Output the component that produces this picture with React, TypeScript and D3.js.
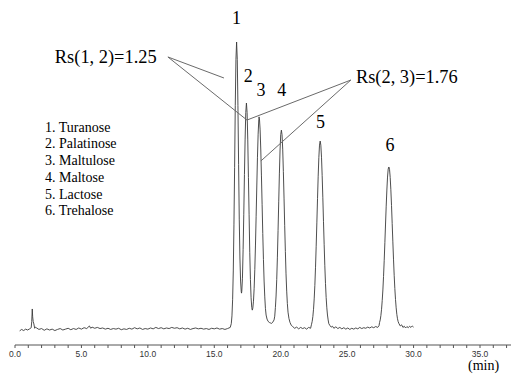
import React from 'react';
import * as d3 from 'd3';

// retention time (min), detector signal (% of peak 1)
const trace: [number, number][] = [
  [0.35, -0.3], [0.5, 0.2], [0.65, -0.2], [0.8, 0.3], [0.95, 0.0], [1.1, 0.4], [1.22, 0.8],
  [1.26, 3.0], [1.3, 7.3], [1.33, 4.6], [1.37, 2.9], [1.42, 2.1], [1.48, 0.6], [1.55, 1.0],
  [1.6, 0.8], [1.8, 0.2], [2.0, 0.5], [2.2, -0.1], [2.4, 0.4], [2.6, 0.0], [2.8, 0.3], [3.0, -0.2],
  [3.2, 0.2], [3.4, 0.5], [3.6, 0.0], [3.8, 0.3], [4.0, 0.6], [4.2, 0.1], [4.4, 0.5], [4.6, 0.2],
  [4.8, 0.7], [5.0, 0.3], [5.2, 0.8], [5.4, 0.5], [5.6, 1.4], [5.7, 0.6], [5.8, 1.0], [6.0, 0.6],
  [6.2, 0.9], [6.4, 0.5], [6.6, 0.7], [6.8, 0.3], [7.0, 0.6], [7.2, 0.2], [7.4, 0.5], [7.6, 0.3],
  [7.8, 0.6], [8.0, 0.1], [8.2, 0.4], [8.4, 0.2], [8.6, 0.6], [8.8, 0.3], [9.0, 0.8], [9.2, 0.4],
  [9.4, 0.7], [9.6, 0.2], [9.8, 0.5], [10.0, 0.3], [10.2, 0.7], [10.4, 0.4], [10.6, 0.9], [10.8, 0.5],
  [11.0, 0.8], [11.2, 0.4], [11.4, 0.7], [11.6, 0.5], [11.8, 0.9], [12.0, 0.6], [12.2, 0.8], [12.4, 0.4],
  [12.6, 0.7], [12.8, 0.3], [13.0, 0.6], [13.2, 0.2], [13.4, 0.5], [13.6, 0.7], [13.8, 0.4], [14.0, 0.6],
  [14.2, 0.3], [14.4, 0.5], [14.6, 0.2], [14.8, 0.6], [15.0, 0.4], [15.2, 0.7], [15.4, 0.3], [15.6, 0.5],
  [15.8, 0.2], [16.0, 0.5], [16.2, 0.9],
  // peak 1
  [16.28, 2.2], [16.33, 4.9], [16.38, 10.5], [16.43, 20.5], [16.48, 36.5], [16.53, 56.5], [16.58, 78],
  [16.63, 94], [16.68, 100], [16.73, 94], [16.78, 78], [16.83, 57.5], [16.88, 38.5], [16.93, 25],
  [16.98, 17], [17.03, 13.3], [17.05, 12.8],
  // peak 2
  [17.07, 13.5], [17.12, 18], [17.17, 28], [17.22, 40], [17.27, 54], [17.32, 66], [17.37, 75.5],
  [17.42, 78.8], [17.47, 75.5], [17.52, 66], [17.57, 53], [17.62, 40], [17.67, 27], [17.72, 17.5],
  [17.77, 11.2], [17.82, 7.8], [17.86, 6.9],
  // peak 3
  [17.9, 7.6], [17.95, 10], [18.0, 14.5], [18.05, 21], [18.1, 29.5], [18.15, 39.5], [18.2, 50],
  [18.25, 60], [18.3, 68], [18.35, 73], [18.37, 74], [18.4, 73.3], [18.45, 69.5], [18.5, 62.5],
  [18.55, 53.5], [18.6, 43.5], [18.65, 33.5], [18.7, 24.5], [18.75, 17], [18.8, 11.5], [18.85, 7.5],
  [18.9, 5.2], [18.97, 3.8], [19.05, 3.0], [19.15, 2.6], [19.25, 2.4], [19.32, 2.3], [19.4, 2.7],
  [19.5, 3.5], [19.55, 4.8],
  // peak 4
  [19.6, 7.8], [19.65, 11.8], [19.7, 17.5], [19.75, 25.3], [19.8, 34.5], [19.85, 44.5], [19.9, 54.2],
  [19.95, 62.5], [20.0, 67.8], [20.05, 69.4], [20.1, 67.8], [20.15, 62.8], [20.2, 55], [20.25, 45.8],
  [20.3, 36.2], [20.35, 27.3], [20.4, 19.5], [20.45, 13.5], [20.5, 9.2], [20.55, 6.2], [20.62, 4.0],
  [20.7, 2.6], [20.8, 1.6], [20.9, 1.2], [21.05, 0.6], [21.2, 1.0], [21.35, 0.4], [21.5, 0.9],
  [21.65, 0.5], [21.8, 0.8], [21.95, 0.3], [22.1, 0.9], [22.25, 0.6],
  // peak 5
  [22.32, 2.0], [22.37, 3.0], [22.42, 4.7], [22.47, 7.2], [22.52, 10.8], [22.57, 15.5], [22.62, 21.8],
  [22.67, 29.1], [22.72, 37.2], [22.77, 45.6], [22.82, 53.4], [22.87, 59.9], [22.92, 64.2], [22.97, 65.6],
  [23.02, 64.2], [23.07, 60.0], [23.12, 53.6], [23.17, 45.9], [23.22, 37.6], [23.27, 29.6], [23.32, 22.3],
  [23.37, 16.1], [23.42, 11.3], [23.47, 7.7], [23.52, 5.2], [23.57, 3.5], [23.62, 2.2], [23.7, 1.6],
  [23.8, 1.0], [23.9, 1.3], [24.0, 0.6], [24.15, 1.1], [24.3, 0.5], [24.45, 0.9], [24.6, 0.4],
  [24.75, 0.8], [24.9, 0.3], [25.05, 0.7], [25.2, 0.2], [25.35, 0.6], [25.5, 0.3], [25.65, 0.7],
  [25.8, 0.4], [25.95, 0.9], [26.1, 0.5], [26.25, 0.8], [26.4, 0.6], [26.55, 1.0], [26.7, 0.7],
  [26.85, 1.1], [27.0, 0.8], [27.15, 1.2], [27.3, 0.9], [27.4, 1.5],
  // peak 6
  [27.44, 2.6], [27.49, 3.5], [27.54, 5.0], [27.59, 7.2], [27.64, 10.2], [27.69, 13.9], [27.74, 18.6],
  [27.79, 24.2], [27.84, 30.3], [27.89, 36.8], [27.94, 43.0], [27.99, 48.6], [28.04, 53.1], [28.09, 55.9],
  [28.14, 56.6], [28.19, 55.8], [28.24, 53.0], [28.29, 48.7], [28.34, 43.2], [28.39, 37.0], [28.44, 30.6],
  [28.49, 24.6], [28.54, 19.0], [28.59, 14.4], [28.64, 10.6], [28.69, 7.7], [28.74, 5.4], [28.79, 3.9],
  [28.84, 2.9], [28.9, 2.2], [29.0, 1.4], [29.1, 1.8], [29.2, 0.9], [29.3, 1.3], [29.4, 0.7],
  [29.5, 1.2], [29.6, 0.8], [29.7, 1.3], [29.8, 0.9], [29.9, 1.4], [30.0, 1.0],
];

// peak number, retention time, height of its label (signal units)
const peakIds = ['1', '2', '3', '4', '5', '6'];
const peakTimes = [16.68, 17.55, 18.51, 20.07, 23.0, 28.22];
const peakLabelLevels = [106.3, 86.0, 81.2, 81.4, 70.1, 62.3];

const compounds = ['Turanose', 'Palatinose', 'Maltulose', 'Maltose', 'Lactose', 'Trehalose'];

const majorTicks = [0, 5, 10, 15, 20, 25, 30, 35];
const minorTicks = d3.range(0, 38, 1);

// resolution callouts: label anchor and leader line ends, in (min, signal)
const rs12 = { text: 'Rs(1, 2)=1.25', at: [3.0, 92.7], from: [11.51, 94.8], to: [[15.73, 87.5], [17.46, 72.9]] };
const rs23 = { text: 'Rs(2, 3)=1.76', at: [25.66, 85.9], from: [25.28, 86.8], to: [[17.46, 72.9], [18.51, 58.7]] };

const W = 511;
const H = 389;

export default function App() {
  const x = d3.scaleLinear().domain([0, 35]).range([15, 480]);
  const y = d3.scaleLinear().domain([0, 100]).range([330, 42]);
  const axisY = 345;

  const line = d3.line<[number, number]>()
    .x(d => x(d[0]))
    .y(d => y(d[1]));

  const serif = '"Liberation Serif", "Times New Roman", serif';
  const sans = '"Liberation Sans", Arial, sans-serif';

  return (
    <svg width={W} height={H} style={{ position: 'absolute', left: 0, top: 0, background: '#fff' }}>
      {/* x axis */}
      <line x1={x(0)} x2={x(37.6)} y1={axisY} y2={axisY} stroke="#555" strokeWidth={1} />
      {minorTicks.map(t => (
        <line key={t} x1={x(t)} x2={x(t)} y1={axisY} y2={axisY + 3} stroke="#555" strokeWidth={1} />
      ))}
      {majorTicks.map(t => (
        <text key={t} x={x(t)} y={axisY + 12} textAnchor="middle" fontFamily={sans} fontSize={8.5} fill="#333">
          {d3.format('.1f')(t)}
        </text>
      ))}
      <text x={468} y={370} fontFamily={serif} fontSize={14} fill="#000">(min)</text>

      {/* chromatogram */}
      <path d={line(trace) ?? ''} fill="none" stroke="#3a3a3a" strokeWidth={0.9} strokeLinejoin="round" />

      {/* peak numbers */}
      {peakIds.map((id, i) => (
        <text key={id} x={x(peakTimes[i])} y={y(peakLabelLevels[i])} textAnchor="middle"
          fontFamily={serif} fontSize={18} fill="#000">{id}</text>
      ))}

      {/* resolution callouts */}
      {[rs12, rs23].map(c => (
        <g key={c.text}>
          {c.to.map((p, j) => (
            <line key={j} x1={x(c.from[0])} y1={y(c.from[1])} x2={x(p[0])} y2={y(p[1])}
              stroke="#6a6a6a" strokeWidth={1} />
          ))}
          <text x={x(c.at[0])} y={y(c.at[1])} fontFamily={serif} fontSize={18.4} fill="#000">{c.text}</text>
        </g>
      ))}

      {/* compound list */}
      {compounds.map((name, i) => (
        <text key={name} x={45} y={131.7 + i * 16.7} fontFamily={serif} fontSize={14} fill="#000">
          {`${i + 1}. ${name}`}
        </text>
      ))}
    </svg>
  );
}
